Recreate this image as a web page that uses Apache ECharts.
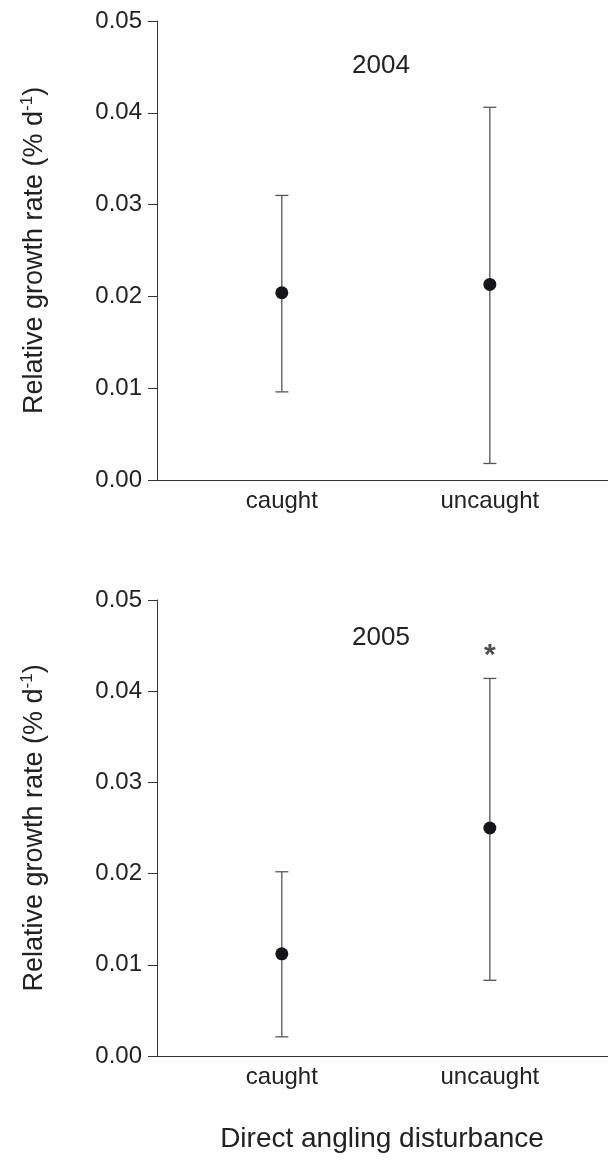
<!DOCTYPE html>
<html>
<head>
<meta charset="utf-8">
<script src="https://cdn.jsdelivr.net/npm/echarts@6/dist/echarts.min.js"></script>
<style>
  html, body { margin: 0; padding: 0; background: #fff; }
  #chart { width: 608px; height: 1161px; }
</style>
</head>
<body>
<div id="chart"></div>
<script>
// categories on the x axis (placed at 1 and 2)
const categories = ["caught", "uncaught"];
const years = ["2004", "2005"];

// 2004 panel
const mean2004 = [0.0204, 0.0213];
const upper2004 = [0.0310, 0.0406];
const lower2004 = [0.0096, 0.0018];

// 2005 panel
const mean2005 = [0.0112, 0.0250];
const upper2005 = [0.0202, 0.0414];
const lower2005 = [0.0021, 0.0083];

// significance marker (2005, uncaught)
const sigMarks2005 = [[2, 0.0439]];

const FONT = "'Liberation Sans', Arial, Helvetica, sans-serif";
const TEXT = "#222";
const AXIS = "#333";

function xAxisFor(gridIndex) {
  return {
    gridIndex: gridIndex,
    type: "value",
    min: 0.4,
    max: 2.568,
    axisLine: { show: true, onZero: false, lineStyle: { color: AXIS, width: 1 } },
    axisTick: { show: false },
    splitLine: { show: false },
    axisLabel: {
      customValues: [1, 2],
      formatter: v => categories[Math.round(v) - 1] || "",
      color: TEXT,
      fontFamily: FONT,
      fontSize: 24,
      margin: 9
    }
  };
}

function topLineFor(gridIndex) {
  return {
    gridIndex: gridIndex,
    type: "value",
    position: "top",
    min: 0.4,
    max: 2.568,
    axisLine: { show: true, lineStyle: { color: AXIS, width: 1 } },
    axisTick: { show: false },
    axisLabel: { show: false },
    splitLine: { show: false }
  };
}

function yAxisFor(gridIndex) {
  return {
    gridIndex: gridIndex,
    type: "value",
    min: 0,
    max: 0.05,
    interval: 0.01,
    name: "{a|Relative growth rate (% d}{s|-1}{a|)}",
    nameLocation: "middle",
    nameRotate: 90,
    nameGap: 106,
    nameTextStyle: {
      rich: {
        a: { fontSize: 27, fontFamily: FONT, color: TEXT, lineHeight: 32 },
        s: { fontSize: 17, fontFamily: FONT, color: TEXT, lineHeight: 32, verticalAlign: "top", padding: [0, 0, 12, 0] }
      }
    },
    axisLine: { show: true, lineStyle: { color: AXIS, width: 1 } },
    axisTick: { show: true, length: 9, lineStyle: { color: AXIS } },
    splitLine: { show: false },
    axisLabel: {
      formatter: v => v.toFixed(2),
      color: TEXT,
      fontFamily: FONT,
      fontSize: 24,
      margin: 15
    }
  };
}

function errorBars(idx, upper, lower) {
  return {
    type: "custom",
    xAxisIndex: idx * 2,
    yAxisIndex: idx,
    data: categories.map((c, i) => [i + 1, lower[i], upper[i]]),
    renderItem: (params, api) => {
      const x = api.value(0);
      const lo = api.coord([x, api.value(1)]);
      const hi = api.coord([x, api.value(2)]);
      const hw = 6.5;
      const style = { stroke: "#555", lineWidth: 1.3 };
      return {
        type: "group",
        children: [
          { type: "line", shape: { x1: hi[0], y1: hi[1], x2: lo[0], y2: lo[1] }, style: style },
          { type: "line", shape: { x1: hi[0] - hw, y1: hi[1], x2: hi[0] + hw, y2: hi[1] }, style: style },
          { type: "line", shape: { x1: lo[0] - hw, y1: lo[1], x2: lo[0] + hw, y2: lo[1] }, style: style }
        ]
      };
    },
    z: 2
  };
}

function means(idx, mean) {
  return {
    type: "scatter",
    xAxisIndex: idx * 2,
    yAxisIndex: idx,
    data: mean.map((v, i) => [i + 1, v]),
    symbol: "circle",
    symbolSize: 13,
    itemStyle: { color: "#15161c", opacity: 1 },
    z: 3
  };
}

const chart = echarts.init(document.getElementById("chart"));
chart.setOption({
  animation: false,
  backgroundColor: "#fff",
  grid: [
    { left: 157, right: 0, top: 21, height: 459 },
    { left: 157, right: 0, top: 600, height: 456 }
  ],
  xAxis: [xAxisFor(0), topLineFor(0), xAxisFor(1), topLineFor(1)],
  yAxis: [yAxisFor(0), yAxisFor(1)],
  graphic: [
    { type: "text", x: 381, y: 66, style: { text: years[0], font: "26px " + FONT, fill: TEXT, align: "center", verticalAlign: "middle" } },
    { type: "text", x: 381, y: 638, style: { text: years[1], font: "26px " + FONT, fill: TEXT, align: "center", verticalAlign: "middle" } },
    { type: "text", x: 382, y: 1139, style: { text: "Direct angling disturbance", font: "28px " + FONT, fill: TEXT, align: "center", verticalAlign: "middle" } }
  ],
  series: [
    errorBars(0, upper2004, lower2004),
    means(0, mean2004),
    errorBars(1, upper2005, lower2005),
    means(1, mean2005),
    {
      type: "scatter",
      xAxisIndex: 2,
      yAxisIndex: 1,
      data: sigMarks2005,
      symbolSize: 0,
      label: {
        show: true,
        formatter: "*",
        position: "inside",
        fontSize: 30,
        fontWeight: "bold",
        fontFamily: FONT,
        color: TEXT
      }
    }
  ]
});
</script>
</body>
</html>
